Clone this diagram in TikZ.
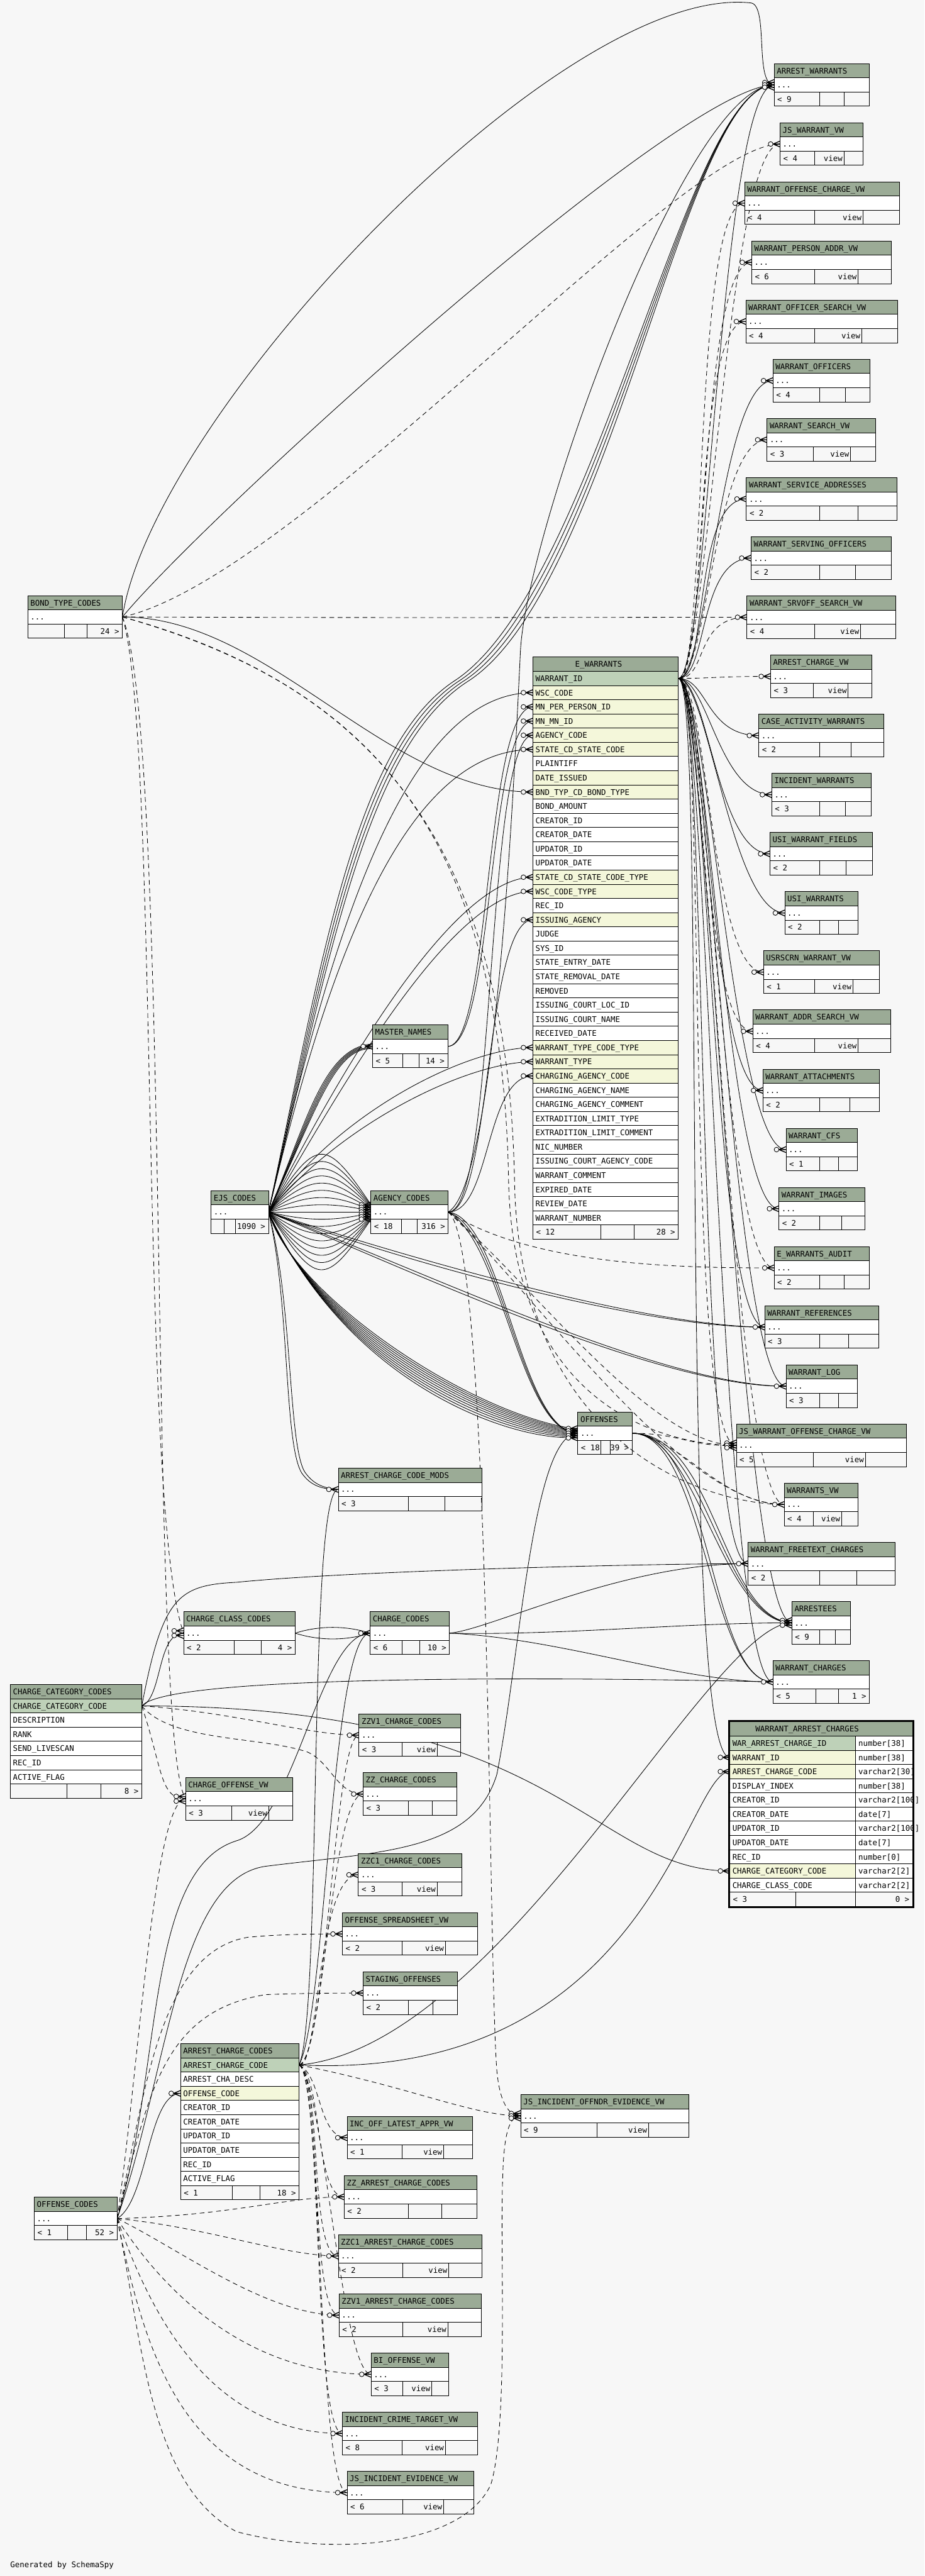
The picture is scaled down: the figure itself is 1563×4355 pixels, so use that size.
\documentclass[tikz,border=0pt]{standalone}
\usepackage{fontspec}
\setmonofont{DejaVu Sans Mono}
\usetikzlibrary{calc}
\pgfdeclarelayer{back}
\pgfdeclarelayer{edges}
\pgfsetlayers{back,edges,main}
\definecolor{hdr}{HTML}{9BAB96}
\definecolor{pkc}{HTML}{BED1B8}
\definecolor{fkc}{HTML}{F4F7DA}
\definecolor{bgc}{HTML}{F7F7F7}
\newcommand\tfont{\ttfamily\fontsize{6.6pt}{7pt}\selectfont}
\tikzset{
  rel/.style={line width=0.45pt},
  impl/.style={line width=0.45pt,dash pattern=on 4pt off 3pt},
  crow/.style={line width=0.7pt},
  tb/.style={line width=0.5pt},
  tl/.style={inner sep=0pt,anchor=base west,font=\tfont},
  tr/.style={inner sep=0pt,anchor=base east,font=\tfont},
}
% small table: name, x, ytop, xright, d1/d2, title, left footer, mid footer, right footer
\newcommand\stbl[9]{%
  \fill[hdr] (#2,#3) rectangle (#4,#3+24);
  \fill[white] (#2,#3+24) rectangle (#4,#3+48);
  \draw[tb] (#2,#3) rectangle (#4,#3+72);
  \draw[tb] (#2,#3+24) -- (#4,#3+24) (#2,#3+48) -- (#4,#3+48);
  \foreach \a/\b in {#5}{%
    \draw[tb] (\a,#3+48) -- (\a,#3+72) (\b,#3+48) -- (\b,#3+72);
    \node[tr] (#1-m) at (\b-2,#3+65) {#8};
  }
  \node[tl] (#1-h) at (#2+4,#3+17) {#6};
  \node[tl] (#1-d) at (#2+4,#3+41) {...};
  \node[tl] (#1-l) at (#2+5,#3+65) {#7};
  \node[tr] (#1-r) at (#4-5,#3+65) {#9};
  \coordinate (#1-in) at (#2,#3+36);
  \coordinate (#1-out) at (#4,#3+36);
}
\newcommand\mk[2][0]{%
  \draw[crow] ($(#2)+(-12,{#1})$) -- ($(#2)+(0,{#1})$) ($(#2)+(-12,{#1})$) -- ($(#2)+(0,{#1-5})$) ($(#2)+(-12,{#1})$) -- ($(#2)+(0,{#1+5})$);
  \draw[rel,fill=bgc] ($(#2)+(-16,{#1})$) circle[radius=2pt];
}
\begin{document}
\begin{tikzpicture}[x=0.5pt,y=-0.5pt]
\useasboundingbox (0,0) rectangle (1563,4355);
\begin{pgfonlayer}{back}
\fill[bgc] (0,0) rectangle (1563,4355);
\end{pgfonlayer}

% ---------- right column ----------
\stbl{aw}{1309}{107.5}{1470}{1386/1427}{ARREST\_WARRANTS}{< 9}{}{}
\stbl{jswvw}{1319}{207.5}{1459}{1377/1427}{JS\_WARRANT\_VW}{< 4}{view}{}
\stbl{wocvw}{1259}{307.5}{1521}{1377/1459}{WARRANT\_OFFENSE\_CHARGE\_VW}{< 4}{view}{}
\stbl{wpavw}{1271}{407.5}{1507}{1377/1451}{WARRANT\_PERSON\_ADDR\_VW}{< 6}{view}{}
\stbl{wosvw}{1261}{507.5}{1518}{1377/1457}{WARRANT\_OFFICER\_SEARCH\_VW}{< 4}{view}{}
\stbl{wo}{1307}{607.5}{1471}{1386/1429}{WARRANT\_OFFICERS}{< 4}{}{}
\stbl{wsvw}{1297}{707.5}{1481}{1375/1438}{WARRANT\_SEARCH\_VW}{< 3}{view}{}
\stbl{wsa}{1262}{807.5}{1517}{1386/1451}{WARRANT\_SERVICE\_ADDRESSES}{< 2}{}{}
\stbl{wso}{1270}{907.5}{1507}{1386/1446}{WARRANT\_SERVING\_OFFICERS}{< 2}{}{}
\stbl{wssvw}{1263}{1007.5}{1515}{1377/1455}{WARRANT\_SRVOFF\_SEARCH\_VW}{< 4}{view}{}
\stbl{acvw}{1303}{1107.5}{1474}{1375/1434}{ARREST\_CHARGE\_VW}{< 3}{view}{}
\stbl{caw}{1283}{1207.5}{1494}{1386/1439}{CASE\_ACTIVITY\_WARRANTS}{< 2}{}{}
\stbl{iw}{1305}{1307.5}{1473}{1386/1429}{INCIDENT\_WARRANTS}{< 3}{}{}
\stbl{uwf}{1302}{1407.5}{1475}{1386/1430}{USI\_WARRANT\_FIELDS}{< 2}{}{}
\stbl{uw}{1327}{1507.5}{1451}{1386/1418}{USI\_WARRANTS}{< 2}{}{}
\stbl{uswvw}{1291}{1607.5}{1487}{1377/1442}{USRSCRN\_WARRANT\_VW}{< 1}{view}{}
\stbl{wasvw}{1273}{1707.5}{1506}{1377/1451}{WARRANT\_ADDR\_SEARCH\_VW}{< 4}{view}{}
\stbl{wat}{1290}{1807.5}{1487}{1386/1437}{WARRANT\_ATTACHMENTS}{< 2}{}{}
\stbl{wcfs}{1329}{1907.5}{1450}{1386/1418}{WARRANT\_CFS}{< 1}{}{}
\stbl{wim}{1317}{2007.5}{1462}{1386/1423}{WARRANT\_IMAGES}{< 2}{}{}
\stbl{ewa}{1309}{2107.5}{1470}{1386/1427}{E\_WARRANTS\_AUDIT}{< 2}{}{}
\stbl{wref}{1293}{2207.5}{1486}{1386/1435}{WARRANT\_REFERENCES}{< 3}{}{}
\stbl{wlog}{1329}{2307.5}{1450}{1386/1418}{WARRANT\_LOG}{< 3}{}{}
\stbl{jswocvw}{1245}{2407.5}{1533}{1375/1463}{JS\_WARRANT\_OFFENSE\_CHARGE\_VW}{< 5}{view}{}
\stbl{wvw}{1326}{2507.5}{1451}{1375/1423}{WARRANTS\_VW}{< 4}{view}{}
\stbl{wftc}{1265}{2607.5}{1513}{1386/1449}{WARRANT\_FREETEXT\_CHARGES}{< 2}{}{}
\stbl{arr}{1339}{2707.5}{1438}{1386/1412}{ARRESTEES}{< 9}{}{}
\stbl{wch}{1307}{2807.5}{1470}{1380/1418}{WARRANT\_CHARGES}{< 5}{}{1 >}

% ---------- left / middle ----------
\stbl{btc}{47}{1007}{207}{109/147}{BOND\_TYPE\_CODES}{}{}{24 >}
\stbl{mn}{630}{1733}{757}{681/709}{MASTER\_NAMES}{< 5}{}{14 >}
\stbl{ejs}{357}{2013}{454}{379/398}{EJS\_CODES}{}{}{1090 >}
\stbl{ac}{627}{2013}{758}{679/705}{AGENCY\_CODES}{< 18}{}{316 >}
\stbl{off}{977}{2387}{1069}{1016/1032}{OFFENSES}{< 18}{}{39 >}
\stbl{acm}{572}{2482}{815}{691/752}{ARREST\_CHARGE\_CODE\_MODS}{< 3}{}{}
\stbl{ccl}{310.5}{2725}{499}{395.5/441.6}{CHARGE\_CLASS\_CODES}{< 2}{}{4 >}
\stbl{cc}{626}{2725}{760}{680/710}{CHARGE\_CODES}{< 6}{}{10 >}
\stbl{zzv1cc}{607}{2897.5}{779}{680/739}{ZZV1\_CHARGE\_CODES}{< 3}{view}{}
\stbl{zzcc}{614}{2997}{772}{691/731}{ZZ\_CHARGE\_CODES}{< 3}{}{}
\stbl{covw}{314}{3005}{495}{392/454}{CHARGE\_OFFENSE\_VW}{< 3}{view}{}
\stbl{zzc1cc}{606}{3133.5}{781}{680/739}{ZZC1\_CHARGE\_CODES}{< 3}{view}{}
\stbl{osvw}{579}{3233.5}{807}{680/753}{OFFENSE\_SPREADSHEET\_VW}{< 2}{view}{}
\stbl{so}{614}{3333.5}{773}{690/731.5}{STAGING\_OFFENSES}{< 2}{}{}
\stbl{jsioe}{880.5}{3541}{1165}{1009/1096.5}{JS\_INCIDENT\_OFFNDR\_EVIDENCE\_VW}{< 9}{view}{}
\stbl{inc}{587}{3578}{799}{680/750}{INC\_OFF\_LATEST\_APPR\_VW}{< 1}{view}{}
\stbl{zzacc}{582}{3678}{806}{690/747}{ZZ\_ARREST\_CHARGE\_CODES}{< 2}{}{}
\stbl{zzc1acc}{572}{3778}{815}{681/758.6}{ZZC1\_ARREST\_CHARGE\_CODES}{< 2}{view}{}
\stbl{zzv1acc}{573.4}{3878}{814}{681/757}{ZZV1\_ARREST\_CHARGE\_CODES}{< 2}{view}{}
\stbl{bivw}{627.6}{3978}{759}{681/730}{BI\_OFFENSE\_VW}{< 3}{view}{}
\stbl{ictvw}{579}{4078}{807}{680/753}{INCIDENT\_CRIME\_TARGET\_VW}{< 8}{view}{}
\stbl{jsievw}{587}{4178}{801}{681/750}{JS\_INCIDENT\_EVIDENCE\_VW}{< 6}{view}{}
\stbl{ocd}{58}{3714.7}{198}{114.4/146}{OFFENSE\_CODES}{< 1}{}{52 >}

% ---------- E_WARRANTS ----------
\fill[hdr] (901,1111) rectangle (1147,1135);
\foreach \t/\c [count=\i from 0] in {WARRANT\_ID/pkc,WSC\_CODE/fkc,MN\_PER\_PERSON\_ID/fkc,MN\_MN\_ID/fkc,AGENCY\_CODE/fkc,STATE\_CD\_STATE\_CODE/fkc,PLAINTIFF/white,DATE\_ISSUED/fkc,BND\_TYP\_CD\_BOND\_TYPE/fkc,BOND\_AMOUNT/white,CREATOR\_ID/white,CREATOR\_DATE/white,UPDATOR\_ID/white,UPDATOR\_DATE/white,STATE\_CD\_STATE\_CODE\_TYPE/fkc,WSC\_CODE\_TYPE/fkc,REC\_ID/white,ISSUING\_AGENCY/fkc,JUDGE/white,SYS\_ID/white,STATE\_ENTRY\_DATE/white,STATE\_REMOVAL\_DATE/white,REMOVED/white,ISSUING\_COURT\_LOC\_ID/white,ISSUING\_COURT\_NAME/white,RECEIVED\_DATE/white,WARRANT\_TYPE\_CODE\_TYPE/fkc,WARRANT\_TYPE/fkc,CHARGING\_AGENCY\_CODE/fkc,CHARGING\_AGENCY\_NAME/white,CHARGING\_AGENCY\_COMMENT/white,EXTRADITION\_LIMIT\_TYPE/white,EXTRADITION\_LIMIT\_COMMENT/white,NIC\_NUMBER/white,ISSUING\_COURT\_AGENCY\_CODE/white,WARRANT\_COMMENT/white,EXPIRED\_DATE/white,REVIEW\_DATE/white,WARRANT\_NUMBER/white}{%
  \fill[fill=\c] (901,1135+24*\i) rectangle (1147,1159+24*\i);
  \draw[tb] (901,1135+24*\i) -- (1147,1135+24*\i);
  \node[tl] (ew-t\i) at (905,1152+24*\i) {\t};
  \coordinate (ew-r\i) at (901,1147+24*\i);
}
\draw[tb] (901,2071) -- (1147,2071) (1016,2071) -- (1016,2095) (1072,2071) -- (1072,2095);
\draw[tb] (901,1111) rectangle (1147,2095);
\node[tl] (ew-h) at (972,1128) {E\_WARRANTS};
\node[tl] (ew-fl) at (906,2088) {< 12};
\node[tr] (ew-fr) at (1142,2088) {28 >};
\coordinate (ew-out) at (1147,1147);

% ---------- WARRANT_ARREST_CHARGES ----------
\fill[hdr] (1234,2911) rectangle (1543,2935);
\foreach \t/\c/\y [count=\i from 1] in {WAR\_ARREST\_CHARGE\_ID/pkc/number[38],WARRANT\_ID/fkc/number[38],ARREST\_CHARGE\_CODE/fkc/varchar2[30],DISPLAY\_INDEX/white/number[38],CREATOR\_ID/white/varchar2[100],CREATOR\_DATE/white/date[7],UPDATOR\_ID/white/varchar2[100],UPDATOR\_DATE/white/date[7],REC\_ID/white/number[0],CHARGE\_CATEGORY\_CODE/fkc/varchar2[2],CHARGE\_CLASS\_CODE/white/varchar2[2]}{%
  \fill[fill=\c] (1234,2911+24*\i) rectangle (1447,2935+24*\i);
  \fill[white] (1447,2911+24*\i) rectangle (1543,2935+24*\i);
  \draw[tb] (1234,2911+24*\i) -- (1543,2911+24*\i);
  \node[tl] (wac-t\i) at (1238,2928+24*\i) {\t};
  \node[tl] (wac-y\i) at (1451,2928+24*\i) {\y};
  \coordinate (wac-r\i) at (1234,2923+24*\i);
}
\draw[tb] (1234,3199) -- (1543,3199) (1447,2935) -- (1447,3223) (1346,3199) -- (1346,3223);
\node[tl] (wac-h) at (1277,2928) {WARRANT\_ARREST\_CHARGES};
\node[tl] (wac-fl) at (1239,3216) {< 3};
\node[tr] (wac-fr) at (1538,3216) {0 >};
\draw[line width=1.5pt] (1232.5,2909.5) rectangle (1544.5,3224.5);

% ---------- CHARGE_CATEGORY_CODES ----------
\fill[hdr] (17.6,2848) rectangle (239.7,2872);
\foreach \t/\c [count=\i from 1] in {CHARGE\_CATEGORY\_CODE/pkc,DESCRIPTION/white,RANK/white,SEND\_LIVESCAN/white,REC\_ID/white,ACTIVE\_FLAG/white}{%
  \fill[fill=\c] (17.6,2848+24*\i) rectangle (239.7,2872+24*\i);
  \draw[tb] (17.6,2848+24*\i) -- (239.7,2848+24*\i);
  \node[tl] (ccc-t\i) at (21.6,2865+24*\i) {\t};
}
\draw[tb] (17.6,3016) -- (239.7,3016) (113.5,3016) -- (113.5,3040) (170.6,3016) -- (170.6,3040);
\draw[tb] (17.6,2848) rectangle (239.7,3040);
\node[tl] (ccc-h) at (21.6,2865) {CHARGE\_CATEGORY\_CODES};
\node[tr] (ccc-fr) at (234.7,3033) {8 >};
\coordinate (ccc-out) at (239.7,2884);

% ---------- ARREST_CHARGE_CODES ----------
\fill[hdr] (305.5,3455) rectangle (505.7,3479);
\foreach \t/\c [count=\i from 1] in {ARREST\_CHARGE\_CODE/pkc,ARREST\_CHA\_DESC/white,OFFENSE\_CODE/fkc,CREATOR\_ID/white,CREATOR\_DATE/white,UPDATOR\_ID/white,UPDATOR\_DATE/white,REC\_ID/white,ACTIVE\_FLAG/white}{%
  \fill[fill=\c] (305.5,3455+24*\i) rectangle (505.7,3479+24*\i);
  \draw[tb] (305.5,3455+24*\i) -- (505.7,3455+24*\i);
  \node[tl] (acc-t\i) at (309.5,3472+24*\i) {\t};
}
\draw[tb] (305.5,3695) -- (505.7,3695) (392.8,3695) -- (392.8,3719) (439.5,3695) -- (439.5,3719);
\draw[tb] (305.5,3455) rectangle (505.7,3719);
\node[tl] (acc-h) at (309.5,3472) {ARREST\_CHARGE\_CODES};
\node[tl] (acc-fl) at (310.5,3712) {< 1};
\node[tr] (acc-fr) at (500.7,3712) {18 >};
\coordinate (acc-out) at (505.7,3491);
\coordinate (acc-oc) at (305.5,3539);

\node[tl] (gen) at (17,4341) {Generated by SchemaSpy};

% ================= connectors =================
\begin{pgfonlayer}{edges}
% E_WARRANTS.WARRANT_ID fan
\foreach \t in {aw,wo,wsa,wso,caw,iw,uwf,uw,wat,wcfs,wim,wref,wlog,wftc,arr,wch}
  {\draw[rel] (ew-out) .. controls +(50,0) and +(-90,0) .. (\t-in);}
\foreach \t in {jswvw,wocvw,wpavw,wosvw,wsvw,wssvw,acvw,uswvw,wasvw,ewa,jswocvw,wvw}
  {\draw[impl] (ew-out) .. controls +(50,0) and +(-90,0) .. (\t-in);}
\draw[rel] (ew-out) .. controls +(50,0) and +(-90,0) .. (wac-r2);

% BOND_TYPE_CODES
\draw[rel] (btc-out) .. controls +(250,0) and +(-250,0) .. (ew-r8);
\draw[rel] (btc-out) .. controls (260,700) and (950,-30) .. (1270,5) .. controls (1300,10) and (1275,143.5) .. (aw-in);
\draw[rel] (btc-out) .. controls (350,870) and (1150,143.5) .. (aw-in);
\draw[impl] (btc-out) .. controls (500,980) and (1150,243.5) .. (jswvw-in);
\draw[impl] (btc-out) .. controls (700,1045) and (1050,1043.5) .. (wssvw-in);
\draw[impl] (btc-out) .. controls (270,1250) and (235,2550) .. (ccl-in);
\draw[impl] (btc-out) .. controls (290,1250) and (250,2950) .. (covw-in);
\draw[impl] (btc-out) .. controls (600,1150) and (860,1400) .. (870,2000) .. controls (880,2450) and (1200,2543.5) .. (wvw-in);
\draw[impl] (btc-out) .. controls (620,1160) and (850,1400) .. (860,2000) .. controls (870,2400) and (1150,2443.5) .. (jswocvw-in);

% EJS_CODES
\foreach \k in {-8,...,8}
  {\draw[rel] (ejs-out) .. controls ({520+abs(\k)*2},{2049+\k*16}) and ({565-abs(\k)*2},{2049+\k*16}) .. ($(ac-in)+(0,{\k*1.6})$);}
\foreach \k in {0,...,4}
  {\draw[rel] (ejs-out) .. controls ({515+\k*5},{1910-\k*8}) and ({545+\k*5},1769) .. ($(mn-in)+(0,{\k*2-4})$);}
\draw[rel] (ejs-out) .. controls (555,1600) and (680,1171) .. (ew-r1);
\draw[rel] (ejs-out) .. controls (560,1600) and (690,1267) .. (ew-r5);
\foreach \k in {0,...,3}
  {\draw[rel] (ejs-out) .. controls ({545+\k*4},1620) and ({600+\k*6},1260) .. ({770+\k*8},1150) .. controls ({1010+\k*8},990) and (1160,143.5) .. (aw-in);}
\draw[rel] (ejs-out) .. controls (560,1840) and (760,1483) .. (ew-r14);
\draw[rel] (ejs-out) .. controls (565,1860) and (760,1507) .. (ew-r15);
\draw[rel] (ejs-out) .. controls (570,1880) and (790,1771) .. (ew-r26);
\draw[rel] (ejs-out) .. controls (575,1900) and (790,1795) .. (ew-r27);
\foreach \k in {0,...,9}
  {\draw[rel] (ejs-out) .. controls ({495+\k*11},{2190+\k*18}) and ({800+\k*9},{2395+\k*5}) .. ($(off-in)+(0,{\k*1.5-7})$);}
\draw[rel] (ejs-out) .. controls (700,2130) and (1100,2243.5) .. (wref-in);
\draw[rel] (ejs-out) .. controls (700,2140) and (1100,2246) .. (wref-in);
\draw[rel] (ejs-out) .. controls (720,2150) and (1120,2343.5) .. (wlog-in);
\draw[rel] (ejs-out) .. controls (720,2160) and (1120,2346) .. (wlog-in);
\draw[rel] (ejs-out) .. controls (490,2200) and (480,2440) .. (510,2490) .. controls (525,2512) and (545,2518) .. (acm-in);
\draw[rel] (ejs-out) .. controls (495,2200) and (487,2440) .. (515,2488) .. controls (530,2510) and (548,2516) .. (acm-in);

% MASTER_NAMES / AGENCY_CODES
\draw[rel] (mn-out) .. controls (830,1769) and (820,1195) .. (ew-r2);
\draw[rel] (mn-out) .. controls (835,1769) and (825,1219) .. (ew-r3);
\draw[rel] (ac-out) .. controls (840,2049) and (820,1243) .. (ew-r4);
\draw[rel] (ac-out) .. controls (830,2049) and (820,1555) .. (ew-r17);
\draw[rel] (ac-out) .. controls (830,2049) and (820,1819) .. (ew-r28);
\draw[rel] (ac-out) .. controls (840,2000) and (870,1300) .. (880,1100) .. controls (890,900) and (1160,143.5) .. (aw-in);
\foreach \k in {0,1,2}
  {\draw[rel] (ac-out) .. controls (850,{2060+\k*20}) and (880,2423) .. (off-in);}
\draw[impl] (ac-out) .. controls (900,2140) and (1150,2143.5) .. (ewa-in);
\draw[impl] (ac-out) .. controls (900,2180) and (1150,2543.5) .. (wvw-in);
\draw[impl] (ac-out) .. controls (900,2170) and (1100,2443.5) .. (jswocvw-in);
\draw[impl] (ac-out) .. controls (830,2100) and (825,3300) .. (840,3500) .. controls (845,3555) and (860,3577) .. (jsioe-in);

% OFFENSES
\foreach \k in {0,1,2}
  {\draw[rel] (off-out) .. controls ({1180+\k*15},2423) and (1220,{2743.5-\k*4}) .. (arr-in);}
\foreach \k in {0,1}
  {\draw[rel] (off-out) .. controls ({1190+\k*15},2423) and (1200,2843.5) .. (wch-in);}
\draw[impl] (off-out) .. controls (1150,2423) and (1170,2447) .. (jswocvw-in);
\draw[impl] (off-out) .. controls (1150,2430) and (1220,2543.5) .. (wvw-in);

% CHARGE_CLASS_CODES / CHARGE_CODES
\draw[rel] (ccl-out) .. controls (540,2748) and (585,2748) .. (cc-in);
\draw[rel] (ccl-out) .. controls (540,2774) and (585,2774) .. (cc-in);
\draw[rel] (cc-out) .. controls (830,2755) and (1050,2643.5) .. (wftc-in);
\draw[rel] (cc-out) .. controls (950,2765) and (1150,2743.5) .. (arr-in);
\draw[rel] (cc-out) .. controls (950,2770) and (1150,2843.5) .. (wch-in);

% CHARGE_CATEGORY_CODES
\draw[rel] (ccc-out) .. controls (275,2870) and (265,2761) .. (ccl-in);
\draw[rel] (ccc-out) .. controls (950,2884) and (1000,3163) .. (wac-r10);
\draw[rel] (ccc-out) .. controls (290,2825) and (1100,2838) .. (wch-in);
\draw[rel] (ccc-out) .. controls (275,2700) and (300,2680) .. (400,2675) .. controls (600,2655) and (1100,2643.5) .. (wftc-in);
\draw[impl] (ccc-out) .. controls (400,2895) and (520,2933.5) .. (zzv1cc-in);
\draw[impl] (ccc-out) .. controls (290,2945) and (440,2935) .. (520,2962) .. controls (560,2980) and (570,3033) .. (zzcc-in);
\draw[impl] (ccc-out) .. controls (275,2990) and (270,3041) .. (covw-in);

% OFFENSE_CODES
\draw[rel] (ocd-out) .. controls (250,3720) and (250,3539) .. (acc-oc);
\draw[rel] (ocd-out) .. controls (275,3500) and (245,3160) .. (400,3112) .. controls (500,3082) and (540,2761) .. (cc-in);
\draw[rel] (ocd-out) .. controls (285,3500) and (300,3175) .. (450,3155) .. controls (650,3130) and (800,3130) .. (840,3000) .. controls (880,2800) and (900,2423) .. (off-in);
\draw[impl] (ocd-out) .. controls (245,3550) and (265,3300) .. (420,3275) .. controls (480,3269.5) and (540,3269.5) .. (osvw-in);
\draw[impl] (ocd-out) .. controls (250,3550) and (270,3400) .. (450,3372) .. controls (520,3369.5) and (580,3369.5) .. (so-in);
\draw[impl] (ocd-out) .. controls (400,3745) and (480,3714) .. (zzacc-in);
\draw[impl] (ocd-out) .. controls (350,3765) and (480,3814) .. (zzc1acc-in);
\draw[impl] (ocd-out) .. controls (300,3800) and (450,3914) .. (zzv1acc-in);
\draw[impl] (ocd-out) .. controls (260,3850) and (400,4014) .. (bivw-in);
\draw[impl] (ocd-out) .. controls (250,3900) and (350,4114) .. (ictvw-in);
\draw[impl] (ocd-out) .. controls (240,3950) and (300,4214) .. (jsievw-in);
\draw[impl] (ocd-out) .. controls (235,3500) and (260,3041) .. (covw-in);
\draw[impl] (ocd-out) .. controls (240,3950) and (250,4200) .. (400,4280) .. controls (550,4320) and (780,4310) .. (830,4200) .. controls (860,4100) and (845,3800) .. (850,3680) .. controls (852,3610) and (860,3577) .. (jsioe-in);

% ARREST_CHARGE_CODES
\draw[rel] (acc-out) .. controls (1100,3520) and (1160,2995) .. (wac-r3);
\draw[rel] (acc-out) .. controls (850,3460) and (1200,2743.5) .. (arr-in);
\draw[rel] (acc-out) .. controls (545,3400) and (520,2518) .. (acm-in);
\draw[rel] (acc-out) .. controls (552,3400) and (560,2761) .. (cc-in);
\draw[impl] (acc-out) .. controls (540,3500) and (535,3169.5) .. (zzc1cc-in);
\draw[impl] (acc-out) .. controls (548,3480) and (560,3033) .. (zzcc-in);
\draw[impl] (acc-out) .. controls (552,3480) and (565,2933.5) .. (zzv1cc-in);
\draw[impl] (acc-out) .. controls (700,3530) and (800,3577) .. (jsioe-in);
\foreach \t in {inc,zzacc,zzc1acc,zzv1acc,bivw,ictvw,jsievw}
  {\draw[impl] (acc-out) .. controls (545,3510) and ($(\t-in)+(-50,0)$) .. (\t-in);}
\end{pgfonlayer}

% ================= markers =================
\foreach \t in {jswvw,wocvw,wpavw,wosvw,wo,wsvw,wsa,wso,wssvw,acvw,caw,iw,uwf,uw,uswvw,wasvw,wat,wcfs,wim,ewa,wref,wlog,wvw,wftc,wch,mn,acm,cc,zzv1cc,zzcc,zzc1cc,osvw,so,inc,zzacc,zzc1acc,zzv1acc,bivw,ictvw,jsievw}
  {\mk{\t-in}}
\foreach \d in {-4,0,4} {\mk[\d]{aw-in} \mk[\d]{arr-in} \mk[\d]{jswocvw-in} \mk[\d]{jsioe-in}}
\foreach \d in {-8,-4,0,4,8} {\mk[\d]{off-in}}
\foreach \d in {-12,-8,-4,0,4,8,12} {\mk[\d]{ac-in}}
\foreach \d in {-4,4} {\mk[\d]{ccl-in} \mk[\d]{covw-in}}
\foreach \r in {1,2,3,4,5,8,14,15,17,26,27,28} {\mk{ew-r\r}}
\mk{wac-r2} \mk{wac-r3} \mk{wac-r10} \mk{acc-oc}
\end{tikzpicture}
\end{document}
